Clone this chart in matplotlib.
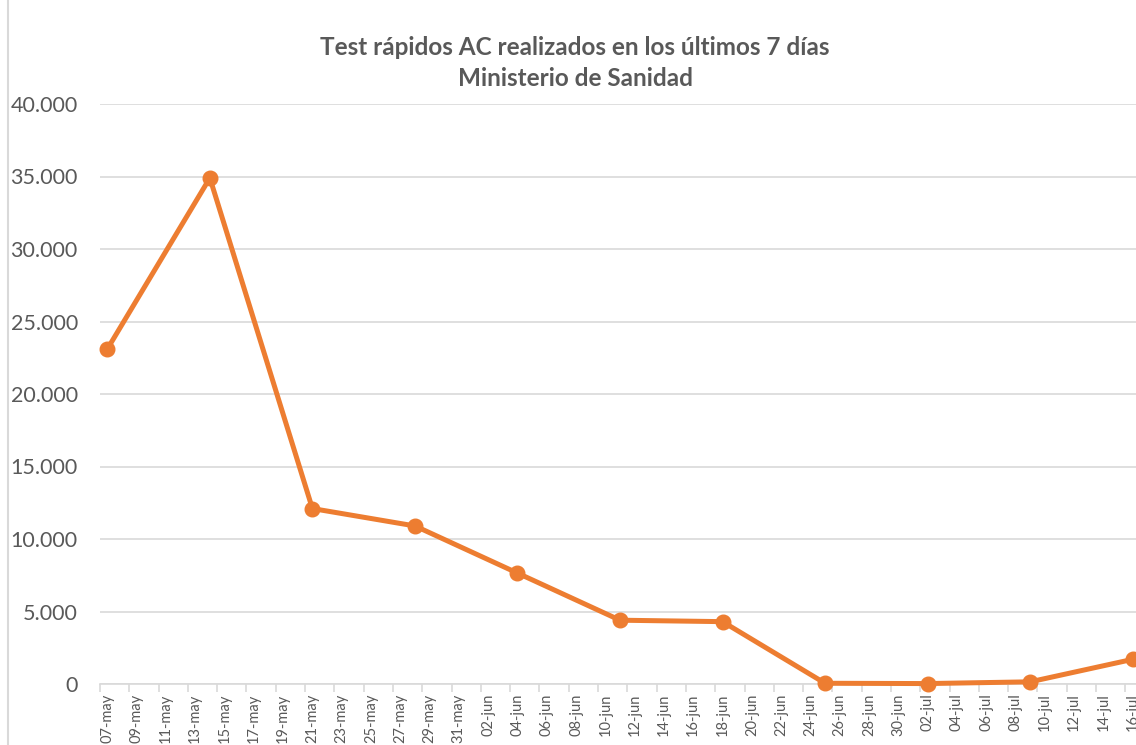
import numpy as np
import matplotlib.pyplot as plt
from matplotlib.lines import Line2D
from matplotlib.ticker import FuncFormatter

# weekly values (Test rapidos AC, ultimos 7 dias)
fechas = np.array(['2021-05-07', '2021-05-14', '2021-05-21', '2021-05-28',
                   '2021-06-04', '2021-06-11', '2021-06-18', '2021-06-25',
                   '2021-07-02', '2021-07-09', '2021-07-16'], dtype='datetime64[D]')
tests = [23100, 34900, 12100, 10900, 7650, 4400, 4300, 50, 30, 150, 1700]

tick_labels = ['07-may', '09-may', '11-may', '13-may', '15-may', '17-may', '19-may',
               '21-may', '23-may', '25-may', '27-may', '29-may', '31-may',
               '02-jun', '04-jun', '06-jun', '08-jun', '10-jun', '12-jun', '14-jun',
               '16-jun', '18-jun', '20-jun', '22-jun', '24-jun', '26-jun', '28-jun',
               '30-jun', '02-jul', '04-jul', '06-jul', '08-jul', '10-jul', '12-jul',
               '14-jul', '16-jul']

titulo = 'Test rápidos AC realizados en los últimos 7 días\nMinisterio de Sanidad'

orange = '#ED7D31'
grey_txt = '#595959'
grey_grid = '#D9D9D9'

plt.rcParams['font.family'] = ['Lato', 'DejaVu Sans']

dias = (fechas - fechas[0]).astype(int)
tick_pos = np.arange(len(tick_labels)) * 2

fig = plt.figure(figsize=(11.36, 7.45), dpi=100)
ax = fig.add_axes([100 / 1136, 1 - 684 / 745, 1040 / 1136, 580 / 745])

ax.plot(dias, tests, color=orange, lw=3.6, marker='o', ms=10.5,
        solid_capstyle='round', clip_on=False, zorder=3)

ax.set_xlim(-0.5, dias[-1] + 0.5)
ax.set_ylim(0, 40000)
ax.set_yticks(np.arange(0, 40001, 5000))
ax.yaxis.set_major_formatter(FuncFormatter(lambda v, p: f'{int(v):,}'.replace(',', '.')))
ax.grid(axis='y', color=grey_grid, lw=1.2)
ax.set_axisbelow(True)

ax.set_xticks(tick_pos)
ax.set_xticklabels(tick_labels, rotation=90, fontsize=10.5, color=grey_txt)
ax.set_xticks(tick_pos - 0.5, minor=True)
ax.tick_params(axis='x', which='major', length=0, pad=7)
ax.tick_params(axis='x', which='minor', length=6, color=grey_grid, width=1.2)
ax.tick_params(axis='y', length=0, labelsize=15.5, labelcolor=grey_txt, pad=16)

for s in ['top', 'right', 'left']:
    ax.spines[s].set_visible(False)
ax.spines['bottom'].set_color(grey_grid)
ax.spines['bottom'].set_linewidth(1.2)

fig.text(575 / 1136, 1 - 63 / 745, titulo, ha='center', va='center',
         fontsize=17.5, fontweight='bold', color=grey_txt, linespacing=1.4)

# chart area border on the left
fig.add_artist(Line2D([8 / 1136, 8 / 1136], [0, 1], color=grey_grid, lw=1.5))

fig.savefig('out.png', dpi=100, facecolor='white')
